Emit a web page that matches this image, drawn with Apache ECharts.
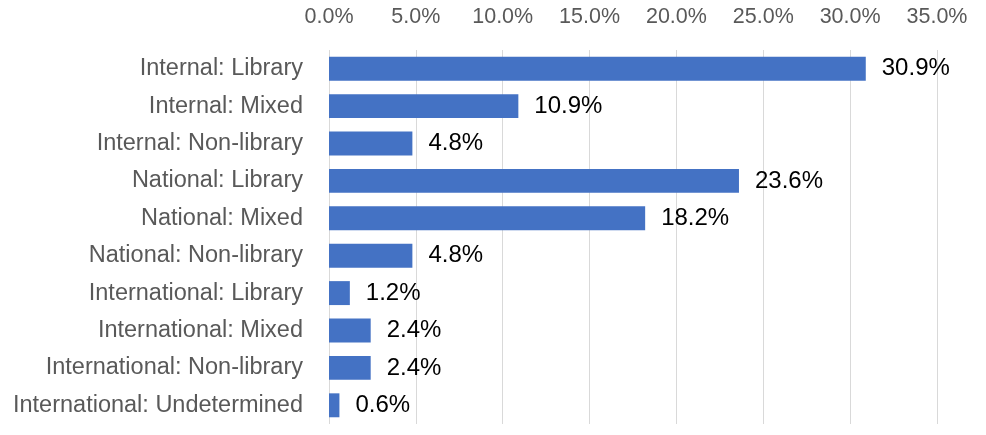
<!DOCTYPE html>
<html><head><meta charset="utf-8">
<script src="https://cdn.jsdelivr.net/npm/echarts@6/dist/echarts.min.js"></script>
<style>html,body{margin:0;padding:0;background:#fff}#c{width:986px;height:435px}</style>
</head><body><div id="c"></div>
<script>
const categories = ["Internal: Library","Internal: Mixed","Internal: Non-library","National: Library","National: Mixed","National: Non-library","International: Library","International: Mixed","International: Non-library","International: Undetermined"];
const values = [30.9,10.9,4.8,23.6,18.2,4.8,1.2,2.4,2.4,0.6];
const tickStep = 5;
const axisMax = 35;
const chart = echarts.init(document.getElementById('c'));
chart.setOption({
  animation:false,
  grid:{left:329,right:49,top:50,bottom:11,containLabel:false},
  xAxis:{type:'value',position:'top',min:0,max:axisMax,interval:tickStep,
    axisLine:{show:false},axisTick:{show:false},
    splitLine:{lineStyle:{color:'#d9d9d9',width:1}},
    axisLabel:{formatter:v=>v.toFixed(1)+'%',color:'#595959',fontSize:21.5,fontFamily:'Liberation Sans',margin:22}},
  yAxis:{type:'category',inverse:true,data:categories,
    axisLine:{show:false},axisTick:{show:false},
    axisLabel:{color:'#595959',fontSize:23.5,fontFamily:'Liberation Sans',margin:26}},
  series:[{type:'bar',data:values,barCategoryGap:'36%',
    itemStyle:{color:'#4472C4'},
    label:{show:true,position:'right',distance:16,formatter:p=>p.value.toFixed(1)+'%',color:'#000',fontSize:24,fontFamily:'Liberation Sans'}}]
});
</script></body></html>
